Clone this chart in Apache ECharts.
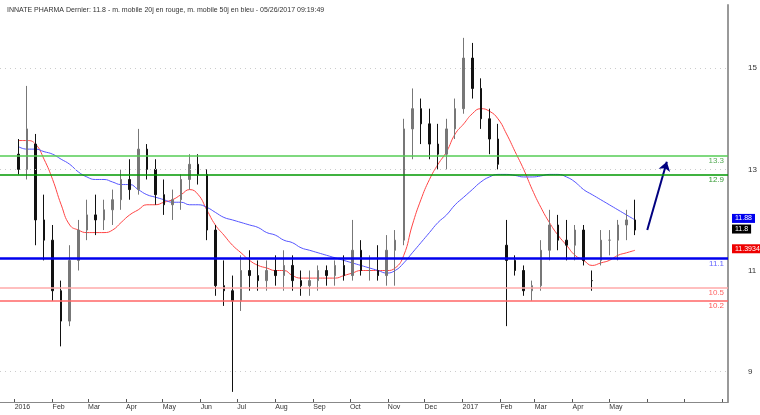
<!DOCTYPE html>
<html><head><meta charset="utf-8">
<script src="https://cdn.jsdelivr.net/npm/echarts@6/dist/echarts.min.js"></script>
<style>html,body{margin:0;padding:0;background:#fff}#c{width:760px;height:415px}</style>
</head><body><div id="c"></div>
<script>
const title = "INNATE PHARMA Dernier: 11.8 - m. mobile 20j en rouge, m. mobile 50j en bleu - 05/26/2017 09:19:49";
const firstWeek = "2016-01-04";
const opens  = [13.3,13.0,13.5,12.0,11.6,10.6,10.0,11.2,11.8,12.1,12.0,12.2,12.4,12.8,12.6,13.4,13.0,12.5,12.3,12.4,12.8,13.1,12.9,11.8,10.7,10.6,10.4,11.0,10.9,10.8,11.0,10.9,11.1,10.8,10.7,10.8,11.0,10.9,11.1,10.9,11.4,11.0,11.0,10.9,11.4,11.6,13.8,14.2,13.9,13.5,13.3,13.8,14.2,15.2,14.6,14.0,13.6,11.5,11.2,11.0,10.6,10.7,11.4,11.9,11.6,11.5,11.8,10.8,11.2,11.6,11.6,11.9,12.0];
const highs  = [13.6,14.65,13.7,12.5,11.9,10.8,11.5,12.0,12.4,12.5,12.4,12.6,13.0,13.2,13.8,13.5,13.2,12.8,12.6,12.9,13.3,13.3,13.0,11.9,11.2,10.9,11.3,11.4,11.2,11.2,11.3,11.4,11.3,11.0,11.0,11.1,11.1,11.2,11.3,12.0,11.6,11.3,11.5,11.7,11.8,14.0,14.6,14.4,14.2,13.9,14.0,14.4,15.6,15.5,14.8,14.2,13.9,12.0,11.3,11.1,10.8,11.6,12.2,12.1,12.0,11.9,11.9,11.0,11.8,11.8,12.0,12.2,12.4];
const lows   = [12.9,12.8,11.5,11.2,10.4,9.5,9.9,11.0,11.6,11.7,11.8,11.9,12.2,12.4,12.5,12.8,12.3,12.1,12.0,12.2,12.6,12.7,11.6,10.5,10.3,8.6,10.2,10.6,10.6,10.6,10.7,10.6,10.6,10.5,10.5,10.6,10.7,10.7,10.8,10.8,10.9,10.8,10.8,10.7,10.7,11.5,13.2,13.5,13.2,13.0,13.0,13.6,14.1,14.4,13.8,13.3,13.0,9.9,10.9,10.5,10.4,10.6,11.2,11.4,11.2,11.2,11.1,10.6,11.1,11.3,11.2,11.6,11.7];
const closes = [13.0,13.8,12.0,11.6,10.6,10.0,11.2,11.8,12.1,12.0,12.2,12.4,12.8,12.6,13.4,13.0,12.5,12.3,12.4,12.8,13.1,12.9,11.8,10.7,10.6,10.4,11.0,10.9,10.8,11.0,10.9,11.1,10.8,10.7,10.8,11.0,10.9,11.1,10.9,11.4,11.0,11.0,10.9,11.4,11.6,13.8,14.2,13.9,13.5,13.3,13.8,14.2,15.2,14.6,14.0,13.6,13.1,11.2,11.0,10.6,10.7,11.4,11.9,11.6,11.5,11.8,11.2,10.8,11.6,11.6,11.9,12.0,11.8];
const ma20 = [13.57,13.57,13.5,13.2,12.8,12.3,11.9,11.8,11.75,11.75,11.75,11.8,11.95,12.1,12.2,12.3,12.3,12.35,12.4,12.5,12.6,12.5,12.2,11.9,11.7,11.5,11.35,11.2,11.1,11.05,11.0,11.0,10.9,10.85,10.85,10.85,10.85,10.85,10.9,10.95,11.0,11.0,11.0,11.0,11.05,11.3,11.9,12.4,12.8,13.1,13.35,13.7,13.9,14.1,14.2,14.15,14.0,13.7,13.35,13.0,12.6,12.25,11.95,11.7,11.5,11.3,11.2,11.1,11.15,11.2,11.3,11.35,11.4];
const ma50 = [13.45,13.4,13.4,13.35,13.3,13.2,13.1,12.95,12.85,12.8,12.8,12.75,12.7,12.7,12.6,12.5,12.45,12.4,12.35,12.35,12.3,12.3,12.25,12.15,12.05,12.0,11.95,11.9,11.85,11.75,11.7,11.6,11.55,11.45,11.4,11.35,11.3,11.25,11.2,11.15,11.1,11.05,11.0,10.95,11.0,11.15,11.35,11.55,11.75,11.95,12.1,12.3,12.45,12.6,12.75,12.85,12.9,12.9,12.88,12.85,12.85,12.87,12.9,12.9,12.85,12.75,12.6,12.5,12.4,12.3,12.2,12.1,12.0];
const levelValues = [13.27, 12.9, 11.24, 10.66, 10.4];
const levelLabels = ["13.3", "12.9", "11.1", "10.5", "10.2"];
const levelColors = ["#55cc55", "#009900", "#0000ee", "#ffaaaa", "#ff6666"];
const levelLabelColors = ["#55aa55", "#339933", "#6666ff", "#ff6666", "#ff5555"];
const levelWidths = [1.5, 1.5, 2.5, 1.5, 1.5];
const yTicks = [9, 11, 13, 15];
const gridLines = [9, 13, 15];
const tags = [
  {value: 12.03, text: "11.88", color: "#0000ee"},
  {value: 11.82, text: "11.8", color: "#000000"},
  {value: 11.43, text: "11.3934", color: "#ee0000"}
];
const arrowFrom = ["2017-06-01", 11.8];
const arrowTo = ["2017-06-17", 13.15];
const lastLabelDate = "2017-05-31";
const monthNames = ["Jan","Feb","Mar","Apr","May","Jun","Jul","Aug","Sep","Oct","Nov","Dec"];

const dates = [];
{ const d0 = new Date(firstWeek + "T00:00:00Z").getTime(); for (let i = 0; i < closes.length; i++) dates.push(d0 + i*7*86400000); }
const ohlc = dates.map((d,i)=>[d, opens[i], closes[i], lows[i], highs[i]]);
const lastLbl = new Date(lastLabelDate).getTime();

const gridMarks = gridLines.map(v=>({yAxis:v, lineStyle:{color:'#cccccc', width:1, type:[1,4]}, label:{show:false}}));
gridMarks.push([{coord:[new Date(arrowFrom[0]).getTime(), arrowFrom[1]], symbol:'none', lineStyle:{color:'#000080', width:2, type:'solid'}},{coord:[new Date(arrowTo[0]).getTime(), arrowTo[1]], symbol:'arrow', symbolSize:9}]);

const levelMarks = levelValues.map((v,i)=>({yAxis:v, lineStyle:{color:levelColors[i], width:levelWidths[i], type:'solid', opacity:1},
  label:{show:true, formatter:levelLabels[i], position:'insideEndBottom', color:levelLabelColors[i], fontSize:8, distance:[4,1]}}));

const tagLines = tags.map(t=>({yAxis:t.value, lineStyle:{color:'rgba(0,0,0,0)', width:0},
  label:{show:true, position:'end', formatter:t.text, color:'#fff', backgroundColor:t.color, fontSize:7, padding:[1,3], distance:4}}));

const chart = echarts.init(document.getElementById('c'));
chart.setOption({
  animation:false,
  title:{text:title, left:2, top:2, textStyle:{fontSize:7, fontWeight:'normal', color:'#333', fontFamily:'Liberation Sans'}},
  grid:{left:0, right:32, top:5, bottom:13},
  xAxis:{type:'time', min:new Date('2015-12-20').getTime(), max:new Date('2017-08-06').getTime(), splitNumber:20,
    axisLine:{lineStyle:{color:'#888'}},
    axisTick:{show:true, inside:true, length:3, lineStyle:{color:'#555'}},
    splitLine:{show:false},
    axisLabel:{fontSize:7, color:'#333', align:'left', margin:2, hideOverlap:false,
      formatter:v=>{if (v>lastLbl) return ''; const d=new Date(v); return d.getUTCMonth()===0 ? String(d.getUTCFullYear()) : monthNames[d.getUTCMonth()];}}},
  yAxis:{type:'value', position:'right', min:8.4, max:16.25, scale:true,
    axisLine:{show:true, lineStyle:{color:'#999', width:2}}, axisTick:{show:false},
    splitLine:{show:false},
    axisLabel:{customValues:yTicks, fontSize:8, color:'#333', margin:20}},
  series:[
    {type:'candlestick', data:ohlc, barWidth:2, z:3,
      itemStyle:{color:'#777', color0:'#111', borderColor:'#777', borderColor0:'#111', borderWidth:1},
      markLine:{silent:true, symbol:'none', data:gridMarks}},
    {type:'line', data:dates.map((d,i)=>[d,ma20[i]]), smooth:true, showSymbol:false, lineStyle:{color:'#ff4444', width:1},
      markLine:{silent:true, symbol:'none', data:levelMarks}},
    {type:'line', data:dates.map((d,i)=>[d,ma50[i]]), smooth:true, showSymbol:false, lineStyle:{color:'#5555ff', width:1},
      markLine:{silent:true, symbol:'none', data:tagLines}}
  ]
});
</script></body></html>
